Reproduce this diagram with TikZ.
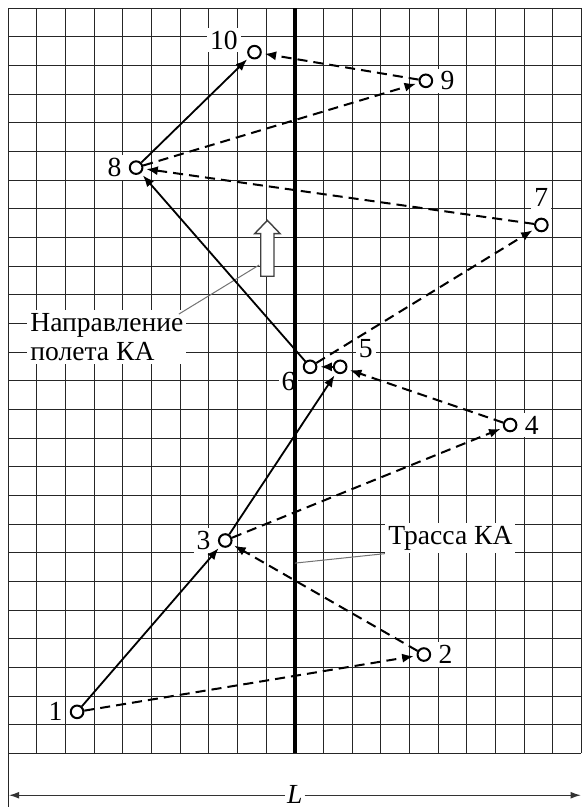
\documentclass[tikz,border=0pt]{standalone}
\usepackage{fontspec}
\setmainfont{Liberation Serif}
\usetikzlibrary{arrows.meta,positioning,calc}

\begin{document}
\begin{tikzpicture}[x=0.5cm, y=0.5cm,
  gridline/.style={draw=black!85, line width=0.5pt},
  trackline/.style={draw=black, line width=1.7pt},
  station/.style={circle, draw=black, fill=white, line width=1pt, minimum size=0.22cm, inner sep=0pt},
  numlbl/.style={fill=white, inner sep=1.5pt, font=\fontsize{13.7}{14.4}\selectfont},
  hopdash/.style={-{Latex[length=2mm,width=1.6mm]}, line width=1pt, dash pattern=on 5pt off 3pt, shorten >=1.5pt},
  hopsolid/.style={-{Latex[length=2mm,width=1.6mm]}, line width=0.9pt, shorten >=1.5pt},
  pointer/.style={draw=black!55, line width=0.5pt},
  dimline/.style={-{Latex[length=1.8mm,width=1.2mm]}, draw=black!80, line width=0.6pt}
]
\useasboundingbox (-0.29,-1.87) rectangle (20.0,26.29);
% Grid
\foreach \i in {0,...,20} \draw[gridline] (\i,0) -- (\i,26);
\foreach \j in {0,...,26} \draw[gridline] (0,\j) -- (20,\j);
\draw[gridline] (0,0) -- (0,-1.87);
% Stations
\foreach \n/\x/\y in {1/2.4/1.45, 2/14.5/3.45, 3/7.57/7.43, 4/17.51/11.46, 5/11.58/13.49,
  6/10.53/13.49, 7/18.6/18.44, 8/4.46/20.44, 9/14.57/23.47, 10/8.59/24.47} {
  \node[station] (p\n) at (\x,\y) {};
}
\node[numlbl, left=2pt of p1] (n1) {1};
\node[numlbl, right=2pt of p2] (n2) {2};
\node[numlbl, left=2pt of p3] (n3) {3};
\node[numlbl, right=2pt of p4] (n4) {4};
\node[numlbl, above right=0pt and 5pt of p5] (n5) {5};
\node[numlbl, below left=-1.5pt and 3pt of p6] (n6) {6};
\node[numlbl, above=4pt of p7] (n7) {7};
\node[numlbl, left=2pt of p8] (n8) {8};
\node[numlbl, right=2pt of p9] (n9) {9};
\node[numlbl, left=3pt of p10, yshift=6pt] (n10) {10};
% Ground track
\draw[trackline] (10,0) -- (10,26);
\node[numlbl, anchor=south west] (trk) at (13.14,6.97) {Трасса КА};
\coordinate (trkpt) at (10,6.64);
\draw[pointer] (trk.south west) -- (trkpt);
% Flight direction
\draw[draw=black!75, fill=white, line width=0.7pt] (8.81,16.65) -- (8.81,18.14) -- (8.6,18.14)
  -- (9.04,18.6) -- (9.48,18.14) -- (9.27,18.14) -- (9.27,16.65) -- cycle;
\coordinate (arrtail) at (8.75,17.04);
\node[numlbl, align=left, anchor=north west] (dirlbl) at (0.65,15.48) {Направление\\полета КА};
\draw[pointer] ($(dirlbl.north east)+(-0.28,-0.15)$) -- (arrtail);
% Hops
\foreach \a/\b in {1/2, 2/3, 3/4, 4/5, 5/6, 6/7, 7/8, 8/9, 9/10}
  \draw[hopdash] (p\a) -- (p\b);
\foreach \a/\b in {1/3, 3/5, 6/8, 8/10}
  \draw[hopsolid] (p\a) -- (p\b);
% Swath width
\node[numlbl, inner sep=0.8pt, font=\fontsize{13.7}{14.4}\selectfont\itshape] (len) at (10,-1.44) {L};
\coordinate (lend) at (0.02,-1.46);
\coordinate (rend) at (19.98,-1.46);
\draw[dimline] (len.west |- lend) -- (lend);
\draw[dimline] (len.east |- rend) -- (rend);
\end{tikzpicture}
\end{document}
